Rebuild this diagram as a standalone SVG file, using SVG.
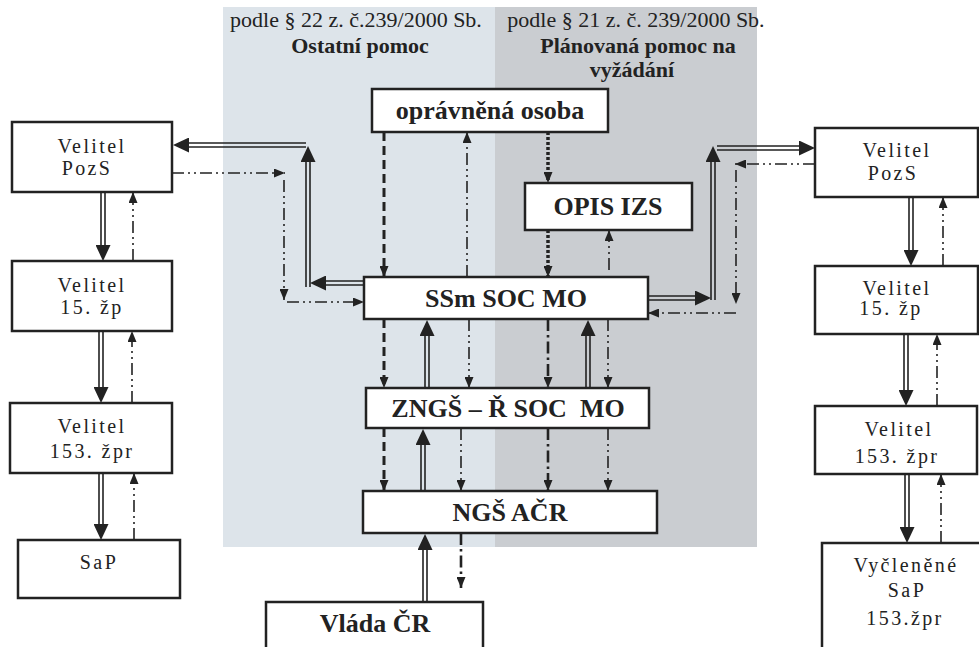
<svg xmlns="http://www.w3.org/2000/svg" width="979" height="647" viewBox="0 0 979 647">
<style>
.box{fill:#fff;stroke:#222;stroke-width:2.5}
.t{font-family:"Liberation Serif","DejaVu Serif",serif;fill:#222;text-anchor:middle}
.n{font-size:20px;letter-spacing:2.4px}
.b{font-size:26px;font-weight:bold}
.h{font-size:22px}
.hb{font-size:22px;font-weight:bold}
#connectors path{fill:none;stroke:#222}
#connectors .s{stroke-width:1.6}
#connectors .dd{stroke-width:1.6;stroke-dasharray:12 4 2 4 2 4;marker-end:url(#sm)}
#connectors .ds{stroke-width:3;stroke-dasharray:9 5;marker-end:url(#sm)}
#connectors .dt{stroke-width:3.5;stroke-dasharray:3 2;marker-end:url(#sm)}
#connectors .dk{stroke-width:2.6;stroke-dasharray:12 4 2.5 4;marker-end:url(#sm)}
#connectors .ax{stroke:none;marker-end:url(#big)}
</style>
<defs>
<marker id="big" markerUnits="userSpaceOnUse" markerWidth="16" markerHeight="15" viewBox="0 0 16 15" refX="16" refY="7.5" orient="auto"><path d="M0,0L16,7.5L0,15z" fill="#222"/></marker>
<marker id="sm" markerUnits="userSpaceOnUse" markerWidth="11" markerHeight="9" viewBox="0 0 11 9" refX="11" refY="4.5" orient="auto"><path d="M0,0L11,4.5L0,9z" fill="#222"/></marker>
</defs>
<rect width="979" height="647" fill="#fff"/>
<rect x="223" y="7" width="272" height="540" fill="#dde4ea"/>
<rect x="495" y="7" width="262" height="540" fill="#cacdd1"/>
<g id="headers">
<text class="t h" x="356" y="27">podle § 22 z. č.239/2000 Sb.</text>
<text class="t hb" x="360" y="53">Ostatní pomoc</text>
<text class="t h" x="636" y="27">podle § 21 z. č. 239/2000 Sb.</text>
<text class="t hb" x="638" y="53">Plánovaná pomoc na</text>
<text class="t hb" x="632" y="77">vyžádání</text>
</g>
<g id="connectors">
<!-- left loop -->
<path class="s" d="M364,281H318M364,285H318"/><path class="ax" d="M364,283H310"/>
<path class="s" d="M306,287V156M310,287V156"/><path class="ax" d="M308,287V146"/>
<path class="s" d="M306,143H186M306,147H186"/><path class="ax" d="M306,145H173"/>
<path class="dd" d="M172,173H285"/>
<path class="dd" d="M284,180V300"/>
<path class="dd" d="M287,302H364"/>
<!-- right loop -->
<path class="s" d="M648,296H698M648,300H698"/><path class="ax" d="M648,298H711"/>
<path class="s" d="M711,300V158M715,300V158"/><path class="ax" d="M713,300V146"/>
<path class="s" d="M717,146H800M717,150H800"/><path class="ax" d="M717,148H815"/>
<path class="dd" d="M815,164H735"/>
<path class="dd" d="M736,170V304"/>
<path class="dd" d="M736,313H648"/>
<!-- centre -->
<path class="ds" d="M384,132V277"/>
<path class="dd" d="M467,277V132"/>
<path class="dt" d="M548,132V183"/>
<path class="dt" d="M548,230V277"/>
<path class="dd" d="M609,270V230"/>
<path class="ds" d="M384,319V388"/>
<path class="s" d="M425,388V333M429,388V333"/><path class="ax" d="M427,388V320"/>
<path class="dd" d="M469,319V388"/>
<path class="dk" d="M548,319V388"/>
<path class="s" d="M586,388V333M590,388V333"/><path class="ax" d="M588,388V320"/>
<path class="dd" d="M608,319V388"/>
<path class="ds" d="M384,428V491"/>
<path class="s" d="M421,491V442M425,491V442"/><path class="ax" d="M423,491V429"/>
<path class="dd" d="M461,428V491"/>
<path class="dk" d="M548,428V491"/>
<path class="dd" d="M608,428V491"/>
<path class="s" d="M423,602V547M427,602V547"/><path class="ax" d="M425,602V534"/>
<path class="dk" d="M461,533V588"/>
<!-- left column -->
<path class="s" d="M101,192V247M105,192V247"/><path class="ax" d="M103,192V261"/>
<path class="dd" d="M133,261V192"/>
<path class="s" d="M99,331V389M103,331V389"/><path class="ax" d="M101,331V403"/>
<path class="dd" d="M132,403V331"/>
<path class="s" d="M99,473V526M103,473V526"/><path class="ax" d="M101,473V540"/>
<path class="dd" d="M134,540V473"/>
<!-- right column -->
<path class="s" d="M909,197V252M913,197V252"/><path class="ax" d="M911,197V266"/>
<path class="dd" d="M943,266V197"/>
<path class="s" d="M904,334V392M908,334V392"/><path class="ax" d="M906,334V406"/>
<path class="dd" d="M937,406V334"/>
<path class="s" d="M905,474V529M909,474V529"/><path class="ax" d="M907,474V543"/>
<path class="dd" d="M941,543V474"/>
</g>
<g id="opravnena"><rect class="box" x="372" y="89" width="236" height="43"/><text class="t b" x="490" y="119">oprávněná osoba</text></g>
<g id="opis"><rect class="box" x="525" y="183" width="167" height="47"/><text class="t b" x="608" y="215">OPIS IZS</text></g>
<g id="ssm"><rect class="box" x="364" y="277" width="284" height="42"/><text class="t b" x="506" y="307">SSm SOC MO</text></g>
<g id="zngs"><rect class="box" x="366" y="388" width="283" height="40"/><text class="t b" x="508" y="417" style="white-space:pre">ZNGŠ – Ř SOC  MO</text></g>
<g id="ngs"><rect class="box" x="363" y="491" width="294" height="42"/><text class="t b" x="510" y="521">NGŠ AČR</text></g>
<g id="vlada"><rect class="box" x="266" y="602" width="217" height="60"/><text class="t b" x="375" y="632">Vláda ČR</text></g>
<g id="l-pozs"><rect class="box" x="12" y="122" width="160" height="70"/><text class="t n" x="92" y="153">Velitel</text><text class="t n" x="87" y="175">PozS</text></g>
<g id="l-15zp"><rect class="box" x="12" y="261" width="160" height="70"/><text class="t n" x="92" y="292">Velitel</text><text class="t n" x="92" y="314">15. žp</text></g>
<g id="l-153zpr"><rect class="box" x="10" y="403" width="162" height="70"/><text class="t n" x="92" y="433">Velitel</text><text class="t n" x="92" y="458">153. žpr</text></g>
<g id="l-sap"><rect class="box" x="18" y="540" width="162" height="58"/><text class="t n" x="99" y="569">SaP</text></g>
<g id="r-pozs"><rect class="box" x="815" y="128" width="163" height="69"/><text class="t n" x="897" y="157">Velitel</text><text class="t n" x="893" y="180">PozS</text></g>
<g id="r-15zp"><rect class="box" x="815" y="266" width="163" height="68"/><text class="t n" x="897" y="295">Velitel</text><text class="t n" x="891" y="315">15. žp</text></g>
<g id="r-153zpr"><rect class="box" x="815" y="406" width="162" height="68"/><text class="t n" x="899" y="436">Velitel</text><text class="t n" x="897" y="463">153. žpr</text></g>
<g id="r-vycl"><rect class="box" x="822" y="543" width="170" height="120"/><text class="t n" x="906" y="572">Vyčleněné</text><text class="t n" x="907" y="597">SaP</text><text class="t n" x="905" y="625">153.žpr</text></g>
</svg>
